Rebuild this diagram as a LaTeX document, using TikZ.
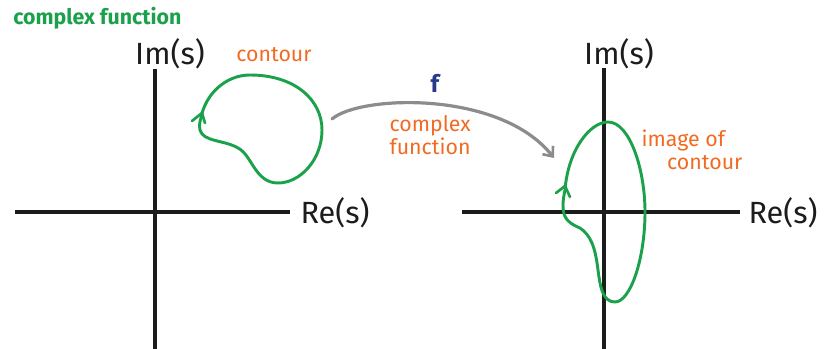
\documentclass[tikz,border=0pt]{standalone}
\usepackage{fontspec}
\setmainfont{Fira Sans}
\usetikzlibrary{arrows.meta}
\definecolor{cgreen}{HTML}{1BA14B}
\definecolor{corange}{HTML}{F26A22}
\definecolor{cblue}{HTML}{26398C}
\definecolor{cgray}{HTML}{8C8C8C}
\definecolor{caxis}{HTML}{1C1C1C}
\tikzset{
  axis/.style={line width=3pt, caxis},
  axlabel/.style={font=\fontsize{23}{26}\selectfont, text=caxis, inner sep=1pt},
  curve/.style={line width=2.2pt, cgreen, line cap=round, line join=round},
  note/.style={font=\fontsize{16}{17}\selectfont, text=corange, align=left, inner sep=1pt},
  chev/.style={line width=2pt, cgreen, line cap=round, line join=round}
}
\begin{document}
\begin{tikzpicture}[x=0.75pt, y=-0.75pt]
\useasboundingbox (0,0) rectangle (824,349);
% left axes
\coordinate (L1) at (15,212); \coordinate (L2) at (290,212);
\coordinate (L3) at (155,69); \coordinate (L4) at (155,349);
\draw[axis] (L1) -- (L2);
\draw[axis] (L3) -- (L4);
\node[axlabel] (imL) at (170,54) {Im(s)};
\node[axlabel, anchor=west] (reL) at (299,213) {Re(s)};
% right axes
\coordinate (R1) at (462,212); \coordinate (R2) at (740,212);
\coordinate (R3) at (604,68); \coordinate (R4) at (604,349);
\draw[axis] (R1) -- (R2);
\draw[axis] (R3) -- (R4);
\node[axlabel] (imR) at (619,54) {Im(s)};
\node[axlabel, anchor=west] (reR) at (747,213) {Re(s)};
% title
\node[font=\fontsize{16}{18}\selectfont\bfseries, text=cgreen, anchor=west, inner sep=0pt] (title) at (13,18) {complex function};
% left contour
\draw[curve] (201,118) .. controls (205,95) and (225,75) .. (250,75)
  .. controls (295,75) and (322,100) .. (322,130)
  .. controls (322,160) and (300,183) .. (278,183)
  .. controls (255,183) and (252,155) .. (238,148)
  .. controls (225,140) and (203,142) .. (200,130)
  .. controls (199,125) and (200,121) .. (201,118);
\draw[chev] (192,121) -- (202,113) -- (205,123);
\node[note] (contourL) at (274,55) {contour};
% right contour
\draw[curve] (565,190) .. controls (568,150) and (590,122) .. (608,122)
  .. controls (630,122) and (645,170) .. (645,212)
  .. controls (645,260) and (630,302) .. (615,302)
  .. controls (602,302) and (600,285) .. (598,270)
  .. controls (595,245) and (590,235) .. (580,228)
  .. controls (565,222) and (563,215) .. (563,205)
  .. controls (563,200) and (564,195) .. (565,190);
\draw[chev] (556,193) -- (565,186) -- (570,197);
\node[note, align=left] (contourR) at (692,150) {image of\\\hspace*{1.2em}contour};
% mapping arrow
\node[font=\fontsize{18}{20}\selectfont\bfseries, text=cblue] (f) at (435,83) {f};
\node[note, align=left, anchor=north west] (cf) at (388,114) {complex\\function};
\coordinate (A1) at (332,119);
\coordinate (A2) at (554,158);
\draw[line width=2.4pt, cgray, line cap=round, -{Straight Barb[length=6pt, width=10pt, line width=2pt]}]
  (A1) .. controls (360,95) and (500,90) .. (A2);
\end{tikzpicture}
\end{document}
